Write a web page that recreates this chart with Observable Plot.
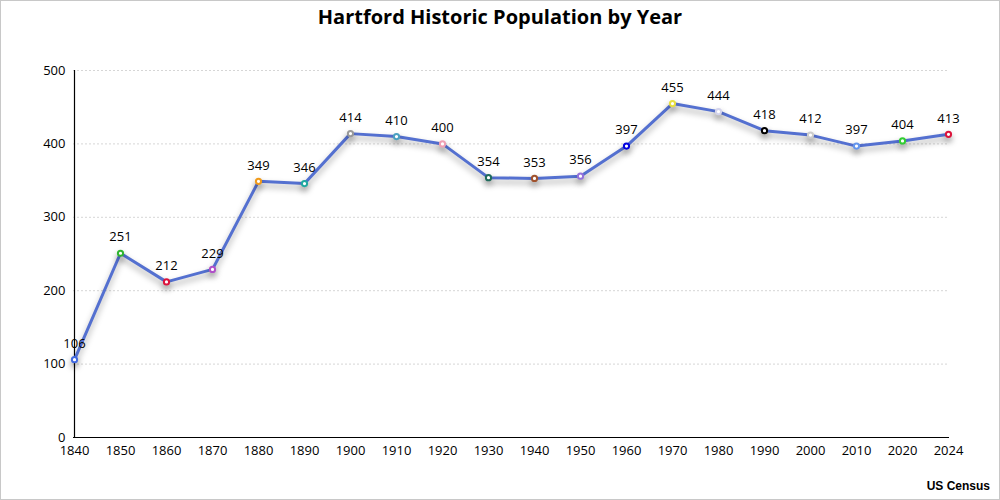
<!DOCTYPE html>
<html>
<head>
<meta charset="utf-8">
<script src="https://cdn.jsdelivr.net/npm/d3@7"></script>
<script src="https://cdn.jsdelivr.net/npm/@observablehq/plot@0.6"></script>
<style>
  html, body { margin: 0; padding: 0; background: #fff; }
  #wrap { position: relative; width: 1000px; height: 500px; overflow: hidden; background: #fff; font-family: "Open Sans", "Noto Sans", sans-serif; }
  #border { position: absolute; left: 0; top: 0; width: 998px; height: 498px; border: 1px solid #c8c8c8; pointer-events: none; }
  #title { position: absolute; left: 0; top: 4px; width: 1000px; text-align: center; font-size: 20px; font-weight: bold; color: #000; line-height: 26px; }
  #chart { position: absolute; left: 0; top: 36px; }
  #caption { position: absolute; right: 10px; top: 479px; font-family: "Liberation Sans", Arial, sans-serif; font-weight: bold; font-size: 12px; color: #000; }
</style>
</head>
<body>
<div id="wrap">
  <div id="title">Hartford Historic Population by Year</div>
  <div id="chart"></div>
  <div id="caption">US Census</div>
  <div id="border"></div>
</div>
<script>
const years = ["1840","1850","1860","1870","1880","1890","1900","1910","1920","1930","1940","1950","1960","1970","1980","1990","2000","2010","2020","2024"];
const population = [106,251,212,229,349,346,414,410,400,354,353,356,397,455,444,418,412,397,404,413];
const markerColors = ["#4169e1","#2fb52f","#dc143c","#b050c8","#f09a1a","#20a8a0","#999999","#4aa0c0","#f0a0b4","#1f6b5c","#a0522d","#9370db","#0000e0","#e8e040","#d4d4ec","#000000","#cccccc","#6495ed","#32cd32","#dc143c"];
const yTicks = [0,100,200,300,400,500];

const data = years.map((y, i) => ({year: y, value: population[i]}));

const chart = Plot.plot({
  width: 1000,
  height: 430,
  marginLeft: 73,
  marginRight: 51,
  marginTop: 34,
  marginBottom: 29,
  style: {fontFamily: "'Open Sans', 'Noto Sans', sans-serif", fontSize: "13px", color: "#000", background: "transparent"},
  x: {type: "point", domain: years, padding: 0, label: null},
  y: {domain: [0, 500], label: null},
  color: {type: "ordinal", domain: years, range: markerColors},
  marks: [
    Plot.gridY(yTicks, {stroke: "#d6d6d6", strokeOpacity: 1, strokeDasharray: "2,2"}),
    Plot.axisY(yTicks, {tickSize: 0, tickPadding: 8, fontSize: 13, label: null}),
    Plot.axisX({tickSize: 0, tickPadding: 8, fontSize: 13, label: null}),
    Plot.ruleX([years[0]], {stroke: "#000", strokeWidth: 1.2}),
    Plot.ruleY([0], {stroke: "#000", strokeWidth: 1.2}),
    Plot.line(data, {x: "year", y: "value", stroke: "#5470d0", strokeWidth: 3}),
    Plot.dot(data, {x: "year", y: "value", r: 2.6, fill: "#fff", stroke: "year", strokeWidth: 2}),
    Plot.text(data, {x: "year", y: "value", text: d => String(d.value), dy: -16, fontSize: 13, fill: "#000"})
  ]
});
document.getElementById("chart").appendChild(chart);
d3.select(chart).selectAll('g[aria-label="line"], g[aria-label="dot"]')
  .style("filter", "drop-shadow(0px 4px 3px rgba(0,0,0,0.35))");
</script>
</body>
</html>
